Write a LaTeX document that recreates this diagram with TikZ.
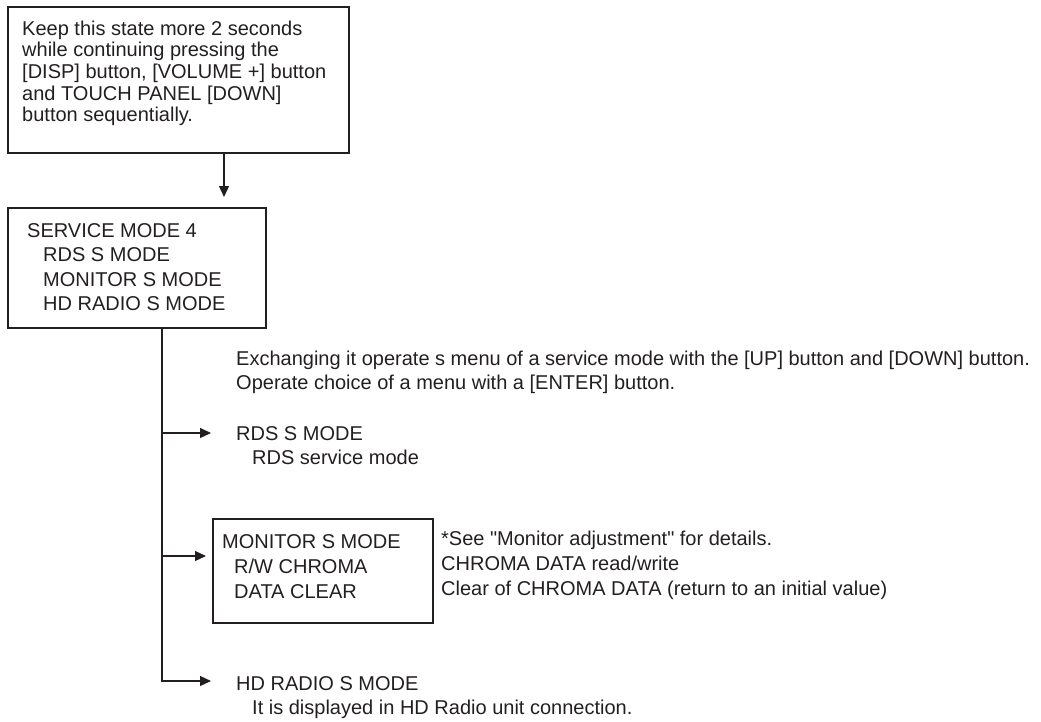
\documentclass[tikz,border=0pt]{standalone}
\usepackage{fontspec}
\setmainfont{Liberation Sans}[Ligatures=TeXOff]
\usetikzlibrary{arrows.meta}
\definecolor{ink}{RGB}{35,31,32}
\begin{document}
\begin{tikzpicture}[x=1pt,y=-1pt,
  box/.style={draw=ink, line width=1.3pt, inner sep=0pt, outer sep=0pt, anchor=north west},
  txt/.style={inner sep=0pt, anchor=base west, text=ink, font=\fontsize{20}{24.5}\selectfont},
  conn/.style={draw=ink, line width=1.2pt},
  arr/.style={conn, -{Triangle[length=11pt,width=10pt]}}]
\useasboundingbox (0,0) rectangle (1041,721);

% boxes
\node[box, minimum width=341pt, minimum height=146pt] (b1) at (8,7) {};
\node[box, minimum width=258pt, minimum height=120pt] (b2) at (8,208) {};
\node[box, minimum width=220pt, minimum height=104pt] (b3) at (213,519) {};

% texts
\node[txt, font=\fontsize{20}{21.7}\selectfont] (t1) at (22,35) {\begin{tabular}[t]{@{}l@{}}Keep this state more 2 seconds\\ while continuing pressing the\\ {[}DISP] button, [VOLUME +] button\\ and TOUCH PANEL [DOWN]\\ button sequentially.\end{tabular}};
\node[txt] (t2) at (27,237) {\begin{tabular}[t]{@{}l@{}}SERVICE MODE 4\\ \hspace*{16pt}RDS S MODE\\ \hspace*{16pt}MONITOR S MODE\\ \hspace*{16pt}HD RADIO S MODE\end{tabular}};
\node[txt, font=\fontsize{20}{24}\selectfont] (t3) at (236,365) {\begin{tabular}[t]{@{}l@{}}Exchanging it operate s menu of a service mode with the [UP] button and [DOWN] button.\\ Operate choice of a menu with a [ENTER] button.\end{tabular}};
\node[txt, font=\fontsize{20}{24}\selectfont] (t4) at (236,440) {\begin{tabular}[t]{@{}l@{}}RDS S MODE\\ \hspace*{16pt}RDS service mode\end{tabular}};
\node[txt, font=\fontsize{20}{25}\selectfont] (t5) at (222,548) {\begin{tabular}[t]{@{}l@{}}MONITOR S MODE\\ \hspace*{12pt}R/W CHROMA\\ \hspace*{12pt}DATA CLEAR\end{tabular}};
\node[txt, font=\fontsize{20}{25}\selectfont] (t6) at (441,545) {\begin{tabular}[t]{@{}l@{}}*See "Monitor adjustment" for details.\\ CHROMA DATA read/write\\ Clear of CHROMA DATA (return to an initial value)\end{tabular}};
\node[txt, font=\fontsize{20}{24}\selectfont] (t7) at (236,690) {\begin{tabular}[t]{@{}l@{}}HD RADIO S MODE\\ \hspace*{16pt}It is displayed in HD Radio unit connection.\end{tabular}};

% connectors
\coordinate (a1) at (224,197);
\draw[arr] (a1 |- b1.south) -- (a1);
\coordinate (v) at (162,681);
\coordinate (r1) at (211,433);
\coordinate (r2) at (206,556);
\coordinate (r3) at (211,681);
\draw[arr] (b2.south -| v) |- (r3);
\draw[arr] (r1 -| v) -- (r1);
\draw[arr] (r2 -| v) -- (r2);
\end{tikzpicture}
\end{document}
